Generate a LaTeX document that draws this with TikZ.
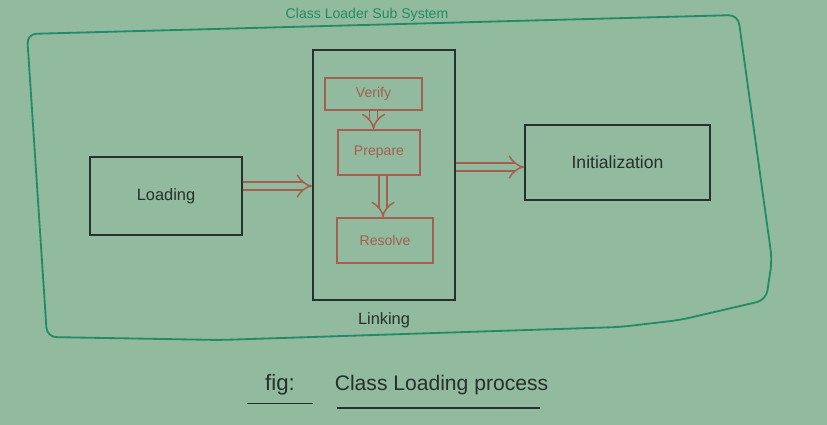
\documentclass[tikz,border=0pt]{standalone}
\usepackage{fontspec}
\setmainfont{Liberation Sans}
\usetikzlibrary{arrows.meta,positioning}
\definecolor{board}{RGB}{145,186,158}
\definecolor{marker}{RGB}{38,48,44}
\definecolor{greenpen}{RGB}{36,140,100}
\definecolor{redpen}{RGB}{165,95,80}
\newcommand{\hand}[1]{\fontsize{#1}{#1}\selectfont}

\begin{document}
\begin{tikzpicture}[x=0.3mm,y=-0.3mm,line width=.55mm,
    blackbox/.style={draw=marker,rectangle,inner sep=0pt,text=marker},
    redbox/.style={draw=redpen,rectangle,inner sep=0pt,text=redpen},
    dbl/.style={draw=redpen,double=board,double distance=2mm,line width=.45mm,-{Implies}}]
    \fill[board] (0,0) rectangle (827,425);
    \useasboundingbox (0,0) rectangle (827,425);
    % sub system frame
    \draw[greenpen,rounded corners=8] (27,34) -- (738,15) -- (772,260) -- (766,300)
        -- (680,320) -- (620,327) -- (220,340) -- (47,337) -- cycle;
    \node[text=greenpen] (title) at (367,15) {\hand{12}Class Loader Sub System};
    % boxes
    \node[blackbox,minimum width=45.6mm,minimum height=23.4mm] (load) at (166,196) {\hand{14}Loading};
    \node[blackbox,minimum width=42.6mm,minimum height=75mm] (link) at (384,175) {};
    \node[below=2.2mm of link,text=marker] (linklabel) {\hand{14}Linking};
    \node[redbox,minimum width=29.1mm,minimum height=9.6mm] (verify) at (373.5,94) {\hand{12}Verify};
    \node[redbox,minimum width=24.6mm,minimum height=13.5mm] (prepare) at (379,152.5) {\hand{12}Prepare};
    \node[redbox,minimum width=28.8mm,minimum height=13.5mm] (resolve) at (385,240.5) {\hand{12}Resolve};
    \node[blackbox,minimum width=55.5mm,minimum height=22.5mm] (init) at (617.5,162.5) {\hand{15}Initialization};
    % arrows
    \draw[dbl] ([yshift=3mm]load.east) -- ([yshift=3mm]load.east -| link.west);
    \draw[dbl] (verify.south) -- (verify.south |- prepare.north);
    \draw[dbl] ([xshift=1.2mm]prepare.south) -- ([xshift=1.2mm]prepare.south |- resolve.north);
    \draw[dbl] ([yshift=2.4mm]link.east) -- ([yshift=2.4mm]link.east -| init.west);
    % caption
    \node[text=marker,minimum width=19.5mm] (fig) at (280,385) {\hand{19}fig:};
    \node[text=marker,anchor=west] (caption) at (330,385) {\hand{18}Class Loading process};
    \draw[marker] ([yshift=-1mm]fig.south west) -- ([yshift=-1mm]fig.south east);
    \draw[marker] ([xshift=2mm,yshift=-2.5mm]caption.south west) -- ([xshift=-4mm,yshift=-2.5mm]caption.south east);
\end{tikzpicture}
\end{document}
